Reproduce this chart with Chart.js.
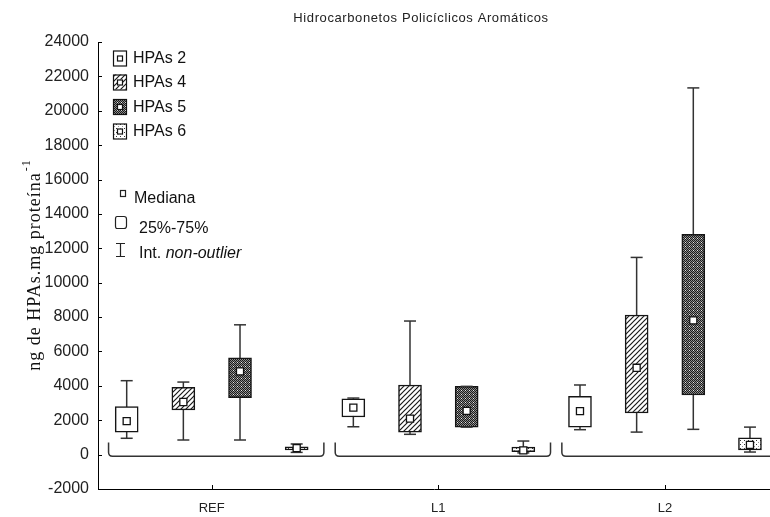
<!DOCTYPE html>
<html>
<head>
<meta charset="utf-8">
<script src="https://cdn.jsdelivr.net/npm/chart.js@4.4.1/dist/chart.umd.min.js"></script>
<style>
  html, body { margin: 0; padding: 0; background: #ffffff; }
  canvas { display: block; }
</style>
</head>
<body>
<canvas id="chart" width="770" height="517"></canvas>
<script>
// Sites and PAH groups
const categories = ['REF', 'L1', 'L2'];
const seriesNames = ['HPAs 2', 'HPAs 4', 'HPAs 5', 'HPAs 6'];

// Box statistics, one row per PAH group, one column per site (ng/mg protein)
const minimo  = [[950, 1620, 1450], [850, 1180, 1310], [850, 1600, 1470], [130, 100, 150]];
const q1      = [[1300, 2190, 1590], [2600, 1300, 2420], [3310, 1600, 3470], [270, 170, 270]];
const mediana = [[1950, 2730, 2530], [3060, 2090, 5050], [4840, 2550, 7810], [380, 250, 560]];
const q3      = [[2800, 3250, 3390], [3910, 4050, 8120], [5630, 3970, 12810], [460, 440, 970]];
const maximo  = [[4300, 3290, 4050], [4220, 7770, 11470], [7550, 3970, 21330], [620, 790, 1600]];

const yMin = -2000, yMax = 24000, yStep = 2000;

// ---- fill patterns ----
function makePattern(size, paint) {
  const c = document.createElement('canvas');
  c.width = size; c.height = size;
  const g = c.getContext('2d');
  g.fillStyle = '#ffffff';
  g.fillRect(0, 0, size, size);
  paint(g, size);
  return document.createElement('canvas').getContext('2d').createPattern(c, 'repeat');
}
const plainFill = '#ffffff';
const hatchFill = makePattern(5, (g, s) => {
  g.strokeStyle = '#1a1a1a'; g.lineWidth = 1.2;
  g.beginPath();
  g.moveTo(-1, s + 1); g.lineTo(s + 1, -1);
  g.moveTo(-1, 1); g.lineTo(1, -1);
  g.moveTo(s - 1, s + 1); g.lineTo(s + 1, s - 1);
  g.stroke();
});
const darkFill = makePattern(4, (g) => {
  g.fillStyle = '#8c8c8c'; g.fillRect(0, 0, 4, 4);
  g.fillStyle = '#1a1a1a';
  for (let y = 0; y < 4; y++) for (let x = 0; x < 4; x++) if ((x + y) % 2 === 0) g.fillRect(x, y, 1, 1);
  g.fillStyle = '#e6e6e6'; g.fillRect(1, 2, 1, 1);
});
const dotFill = makePattern(4, (g) => {
  g.fillStyle = '#333'; g.fillRect(0, 0, 1, 1);
  g.fillStyle = '#999'; g.fillRect(2, 2, 1, 1);
});
const fills = [plainFill, hatchFill, darkFill, dotFill];

// horizontal place of a box inside its site group
const slot = (g, k) => g + (k - 1.5) * 0.25;

const datasets = [];
seriesNames.forEach((name, k) => {
  const stems = [], caps = [], boxes = [], meds = [];
  categories.forEach((cat, g) => {
    const x = slot(g, k);
    stems.push({ x, y: maximo[k][g] }, { x, y: minimo[k][g] }, { x, y: null });
    caps.push({ x, y: maximo[k][g] }, { x, y: minimo[k][g] });
    boxes.push({ x, y: [q1[k][g], q3[k][g]] });
    meds.push({ x, y: mediana[k][g] });
  });
  datasets.push({
    type: 'line', label: name + ' whisker', data: stems, order: 4,
    borderColor: '#333', borderWidth: 1.5, pointRadius: 0, spanGaps: false
  });
  datasets.push({
    type: 'bar', label: name, data: boxes, order: 3, grouped: false,
    backgroundColor: fills[k], borderColor: '#151515', borderWidth: 1.5,
    borderSkipped: false, barThickness: 23
  });
  datasets.push({
    type: 'line', label: name + ' caps', data: caps, order: 2, showLine: false,
    pointStyle: 'line', pointRadius: 6, pointBorderColor: '#333', pointBorderWidth: 1.5
  });
  datasets.push({
    type: 'line', label: name + ' mediana', data: meds, order: 1, showLine: false,
    pointStyle: 'rect', pointRadius: 5, pointBackgroundColor: '#ffffff',
    pointBorderColor: '#111', pointBorderWidth: 1.3
  });
});

const SANS = "'Liberation Sans', Arial, sans-serif";
const SERIF = "'Liberation Serif', 'Times New Roman', serif";

// brackets under each site, inward tick marks, title, axis title and legend
const decorations = {
  id: 'decorations',
  beforeDatasetsDraw(chart) {
    const { ctx, scales: { x, y } } = chart;
    ctx.save();
    ctx.strokeStyle = '#333';
    ctx.lineWidth = 1.5;
    categories.forEach((cat, g) => {
      const l = x.getPixelForValue(g - 0.455);
      const r = x.getPixelForValue(g + 0.495);
      const base = y.getPixelForValue(-90);
      const top = y.getPixelForValue(700);
      ctx.beginPath();
      ctx.moveTo(l, top);
      ctx.lineTo(l, base - 4);
      ctx.quadraticCurveTo(l, base, l + 4, base);
      ctx.lineTo(r - 4, base);
      ctx.quadraticCurveTo(r, base, r, base - 4);
      ctx.lineTo(r, top);
      ctx.stroke();
    });
    ctx.restore();
  },
  afterDraw(chart) {
    const { ctx, chartArea: a, scales: { x, y } } = chart;
    ctx.save();
    // inward ticks
    ctx.strokeStyle = '#000';
    ctx.lineWidth = 1;
    for (let v = yMin; v <= yMax; v += yStep) {
      const py = Math.round(y.getPixelForValue(v)) + 0.5;
      ctx.beginPath(); ctx.moveTo(a.left, py); ctx.lineTo(a.left + 4, py); ctx.stroke();
    }
    categories.forEach((c, g) => {
      const px = Math.round(x.getPixelForValue(g)) + 0.5;
      ctx.beginPath(); ctx.moveTo(px, a.bottom); ctx.lineTo(px, a.bottom - 4); ctx.stroke();
    });

    // title
    ctx.fillStyle = '#222';
    ctx.font = '13px ' + SANS;
    ctx.letterSpacing = '0.6px';
    ctx.textAlign = 'center';
    ctx.textBaseline = 'middle';
    ctx.fillText('Hidrocarbonetos Policíclicos Aromáticos', 421, 18);
    ctx.letterSpacing = '0px';

    // y-axis title with superscript
    ctx.save();
    ctx.translate(35, (a.top + a.bottom) / 2);
    ctx.rotate(-Math.PI / 2);
    const main = 'ng de HPAs.mg proteína';
    const sup = '-1';
    ctx.letterSpacing = '1px';
    ctx.font = '18px ' + SERIF;
    const wMain = ctx.measureText(main).width;
    ctx.font = '12px ' + SERIF;
    const wSup = ctx.measureText(sup).width;
    const start = -(wMain + wSup) / 2;
    ctx.textAlign = 'left';
    ctx.textBaseline = 'alphabetic';
    ctx.fillStyle = '#111';
    ctx.font = '18px ' + SERIF;
    ctx.fillText(main, start, 5);
    ctx.font = '12px ' + SERIF;
    ctx.fillText(sup, start + wMain + 1, -5);
    ctx.restore();

    // legend: series
    ctx.textAlign = 'left';
    ctx.textBaseline = 'middle';
    ctx.font = '16px ' + SANS;
    const rows = [58, 82, 106.5, 131];
    seriesNames.forEach((name, k) => {
      const cy = rows[k];
      const bx = 113, bw = 13, bh = 15, by = cy - bh / 2;
      ctx.fillStyle = fills[k];
      ctx.fillRect(bx, by, bw, bh);
      ctx.strokeStyle = '#111';
      ctx.lineWidth = 1.2;
      ctx.strokeRect(bx + 0.5, by + 0.5, bw, bh);
      ctx.fillStyle = '#fff';
      ctx.fillRect(bx + 4, cy - 2.5, 6, 6);
      ctx.strokeRect(bx + 4.5, cy - 2, 5, 5);
      ctx.fillStyle = '#111';
      ctx.fillText(name, 133, cy + 1);
    });

    // legend: box elements
    ctx.strokeStyle = '#222';
    ctx.lineWidth = 1.2;
    ctx.strokeRect(120.5, 190.5, 5, 6);
    ctx.fillStyle = '#111';
    ctx.fillText('Mediana', 134, 199);

    ctx.beginPath();
    ctx.moveTo(117, 216.5); ctx.lineTo(124, 216.5);
    ctx.quadraticCurveTo(126.5, 216.5, 126.5, 219);
    ctx.lineTo(126.5, 226); ctx.quadraticCurveTo(126.5, 228.5, 124, 228.5);
    ctx.lineTo(117, 228.5); ctx.quadraticCurveTo(115.5, 228.5, 115.5, 226);
    ctx.lineTo(115.5, 219); ctx.quadraticCurveTo(115.5, 216.5, 117, 216.5);
    ctx.stroke();
    ctx.fillText('25%-75%', 139, 229);

    ctx.beginPath();
    ctx.moveTo(116, 243.5); ctx.lineTo(125, 243.5);
    ctx.moveTo(120.5, 243.5); ctx.lineTo(120.5, 256.5);
    ctx.moveTo(116, 256.5); ctx.lineTo(125, 256.5);
    ctx.stroke();
    const lead = 'Int. ';
    ctx.fillText(lead, 139, 254);
    const wLead = ctx.measureText(lead).width;
    ctx.font = 'italic 16px ' + SANS;
    ctx.fillText('non-outlier', 139 + wLead, 254);
    ctx.restore();
  }
};

new Chart(document.getElementById('chart'), {
  type: 'bar',
  data: { datasets },
  options: {
    responsive: false,
    animation: false,
    devicePixelRatio: 1,
    layout: { autoPadding: false, padding: { left: 10, top: 42, right: 0, bottom: 0 } },
    plugins: { legend: { display: false }, tooltip: { enabled: false }, title: { display: false } },
    scales: {
      x: {
        type: 'linear',
        offset: false,
        bounds: 'data',
        min: -0.5016,
        max: 2.4634,
        grid: { display: false, drawTicks: false, offset: false },
        border: { display: true, color: '#000', width: 1 },
        afterBuildTicks: (scale) => { scale.ticks = categories.map((c, i) => ({ value: i })); },
        afterFit: (scale) => {
          scale.height = 28;
          scale.paddingLeft = 0;
          scale.paddingRight = 0;
        },
        ticks: {
          autoSkip: false,
          maxRotation: 0,
          padding: 12,
          color: '#222',
          font: { family: SANS, size: 13 },
          callback: (v) => categories[v]
        }
      },
      y: {
        min: yMin,
        max: yMax,
        grid: { display: false, drawTicks: false },
        border: { display: true, color: '#000', width: 1 },
        afterFit: (scale) => { scale.width = 88; },
        ticks: {
          stepSize: yStep,
          padding: 9,
          color: '#222',
          font: { family: SANS, size: 16 },
          callback: (v) => String(v)
        }
      }
    }
  },
  plugins: [decorations]
});
</script>
</body>
</html>
